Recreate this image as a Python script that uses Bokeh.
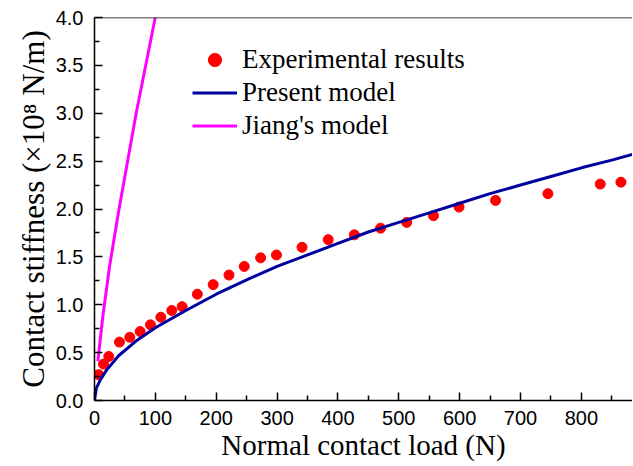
from bokeh.plotting import figure
from bokeh.models import (FixedTicker, PrintfTickFormatter, Legend, LegendItem,
                          Range1d, Span)
from bokeh.embed import file_html
from bokeh.resources import INLINE

# ---- data ----
exp_load = [6.6, 14.8, 23.5, 41, 58, 75, 92, 109, 127, 144, 169, 195, 221, 246,
            273, 299, 341, 384, 427, 470, 513, 557, 599, 659, 745, 831, 865]
exp_stiff = [0.27, 0.38, 0.46, 0.61, 0.66, 0.72, 0.79, 0.87, 0.94, 0.98, 1.11,
             1.21, 1.31, 1.40, 1.49, 1.52, 1.60, 1.68, 1.73, 1.80, 1.86, 1.93,
             2.02, 2.09, 2.16, 2.26, 2.28]

present_load = [0, 3, 10, 20, 40, 70, 100, 150, 200, 250, 300, 350, 400, 450,
                500, 550, 600, 650, 700, 750, 800, 850, 884]
present_stiff = [0.0, 0.13, 0.22, 0.32, 0.47, 0.63, 0.76, 0.94, 1.11, 1.26,
                 1.40, 1.52, 1.64, 1.76, 1.86, 1.96, 2.06, 2.16, 2.25, 2.34,
                 2.43, 2.51, 2.57]

jiang_load = [5.5, 13.7, 24.7, 40, 68.5, 99.8]
jiang_stiff = [0.41, 0.88, 1.40, 1.99, 3.0, 4.0]

x_ticks = [0, 100, 200, 300, 400, 500, 600, 700, 800]
x_minor = [50, 150, 250, 350, 450, 550, 650, 750, 850]
y_ticks = [0.0, 0.5, 1.0, 1.5, 2.0, 2.5, 3.0, 3.5, 4.0]
y_minor = [0.25, 0.75, 1.25, 1.75, 2.25, 2.75, 3.25, 3.75]

x_label = "Normal contact load (N)"
y_label = "Contact stiffness (\u00d710\u2078 N/m)"
legend_labels = ["Experimental results", "Present model", "Jiang's model"]

# ---- figure ----
p = figure(frame_width=538, frame_height=383,
           x_range=Range1d(0, 884), y_range=Range1d(0, 4.0),
           output_backend="svg", toolbar_location=None,
           min_border_left=94, min_border_right=0, min_border_top=17,
           min_border_bottom=0)
p.outline_line_color = None
p.grid.visible = False
p.background_fill_color = "white"
p.border_fill_color = "white"

r_exp = p.scatter(exp_load, exp_stiff, size=10, color="#FF0000", line_color="#FF0000")
r_pre = p.line(present_load, present_stiff, line_color="#0000A0", line_width=3)
r_jia = p.line(jiang_load, jiang_stiff, line_color="#FF00FF", line_width=3)

p.add_layout(Span(location=4.0, dimension="width", line_color="black", line_width=1.5))

for ax, ticks, minor in ((p.xaxis[0], x_ticks, x_minor), (p.yaxis[0], y_ticks, y_minor)):
    ax.ticker = FixedTicker(ticks=ticks, minor_ticks=minor)
    ax.axis_line_color = "black"
    ax.axis_line_width = 1.5
    ax.major_tick_line_color = "black"
    ax.major_tick_line_width = 1.5
    ax.minor_tick_line_color = "black"
    ax.minor_tick_line_width = 1.5
    ax.major_tick_in = 8
    ax.major_tick_out = 0
    ax.minor_tick_in = 5
    ax.minor_tick_out = 0
    ax.major_label_text_font = "Liberation Sans"
    ax.major_label_text_font_size = "20px"
    ax.major_label_text_color = "black"
    ax.axis_label_text_font = "Liberation Serif"
    ax.axis_label_text_font_style = "normal"
    ax.axis_label_text_color = "black"

p.xaxis[0].axis_label_text_font_size = "29px"
p.yaxis[0].axis_label_text_font_size = "31px"
p.yaxis[0].formatter = PrintfTickFormatter(format="%.1f")
p.xaxis[0].axis_label = x_label
p.yaxis[0].axis_label = y_label
p.xaxis[0].major_label_standoff = 10
p.yaxis[0].major_label_standoff = 11
p.xaxis[0].axis_label_standoff = 1
p.yaxis[0].axis_label_standoff = 2

legend = Legend(items=[LegendItem(label=legend_labels[0], renderers=[r_exp]),
                       LegendItem(label=legend_labels[1], renderers=[r_pre]),
                       LegendItem(label=legend_labels[2], renderers=[r_jia])],
                location=(98, 258), padding=0, spacing=-3, margin=0,
                glyph_width=45, glyph_height=33, label_height=33,
                label_standoff=5, border_line_color=None,
                background_fill_alpha=0,
                label_text_font="Liberation Serif", label_text_font_size="27px",
                label_text_color="black")
p.add_layout(legend, "center")

open("out.html", "w").write(file_html(p, INLINE))
